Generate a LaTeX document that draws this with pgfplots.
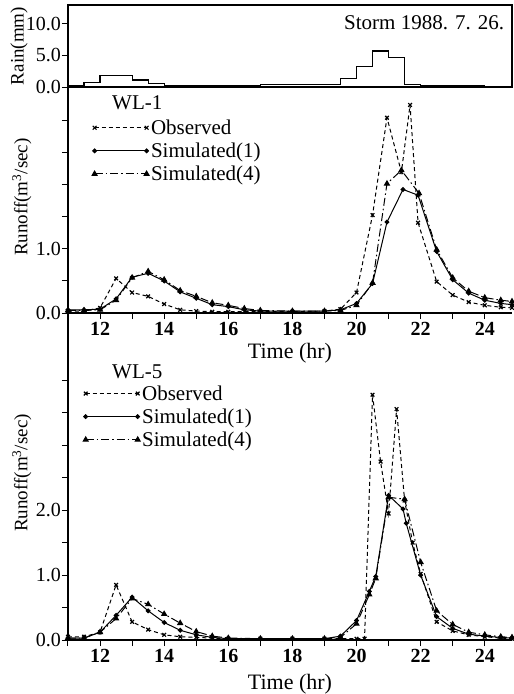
\documentclass[border=0pt]{standalone}
\usepackage{fontspec}
\setmainfont{Liberation Serif}
\usepackage{pgfplots}
\pgfplotsset{compat=1.18}

\newcommand\fs{\fontsize{21}{23}\selectfont}
\newcommand\fsl{\fontsize{22}{24}\selectfont}
\newcommand\fsyl{\fontsize{19}{21}\selectfont}
\newcommand\fsy{\fontsize{20}{22}\selectfont}

\pgfplotsset{
  panel/.style={
    anchor=north west, scale only axis, width=444pt, clip=false,
    xmin=11, xmax=24.85,
    axis x line*=bottom, axis y line*=left,
    axis line style={line width=1.8pt,-},
    tick align=outside, tick pos=left,
    major tick length=6pt, minor tick length=6pt,
    every tick/.style={line width=1pt, black},
    /pgf/number format/assume math mode=true,
    yticklabel style={font=\fsy, inner sep=1pt, /pgf/number format/fixed, /pgf/number format/fixed zerofill, /pgf/number format/precision=1},
    xticklabel style={font=\fsy\bfseries},
    xtick={12,14,...,24}, minor xtick={11,13,...,25},
    xlabel style={font=\fsl},
    ylabel style={font=\fsyl},
    xlabel={Time (hr)},
    ylabel={Runoff(m\textsuperscript{3}/sec)},
    legend style={draw=none, fill=none, font=\fs, row sep=3pt, inner sep=0pt},
    legend cell align=left,
    legend image code/.code={\draw[##1] plot coordinates {(0pt,0pt) (52pt,0pt)};},
  },
  obs/.style={black, line width=1pt, dash pattern=on 4pt off 3pt, mark=x, mark size=2.6pt, mark options={solid, line width=1.2pt}},
  simA/.style={black, line width=1pt, mark=*, mark size=1.9pt, mark options={solid}},
  simB/.style={black, line width=1pt, dash pattern=on 8pt off 3pt on 1.5pt off 3pt, mark=triangle*, mark size=2.8pt, mark options={solid}},
}

\begin{document}
\begin{tikzpicture}
\path[use as bounding box] (-68pt,0pt) rectangle (446pt,-694pt);

% rainfall
\begin{axis}[
  at={(0pt,-5pt)}, anchor=north west, scale only axis,
  width=444pt, height=82pt,
  xmin=11, xmax=24.85, ymin=0, ymax=13,
  xtick=\empty, ytick={0,5,10}, ytick pos=left,
  tick align=outside, major tick length=6pt,
  every tick/.style={line width=1pt, black},
  axis line style={line width=1.2pt},
  /pgf/number format/assume math mode=true,
  yticklabel style={font=\fsy, inner sep=1pt, /pgf/number format/fixed, /pgf/number format/fixed zerofill, /pgf/number format/precision=1},
  ylabel={Rain(mm)},
  ylabel style={font=\fsyl, at={(axis description cs:-0.11,0.5)}, anchor=center},
]
\addplot[const plot, black, line width=1.2pt] coordinates {
  (11,0.2) (11.5,0.7) (12,1.8) (13,1.1) (13.5,0.5) (14,0.2) (17,0.4)
  (19.5,1.4) (20,3.3) (20.5,5.7) (21,4.7) (21.5,0.4) (22,0.15) (24,0.0) (24.85,0.0)};
\draw[line width=2pt] (rel axis cs:0,0) -- (rel axis cs:1,0);
\node[anchor=east, font=\fs] at (rel axis cs:0.99,0.79) {Storm 1988. 7. 26.};
\end{axis}

% WL-1
\begin{axis}[
  panel, at={(0pt,-87pt)}, height=226pt,
  ymin=0, ymax=3.53, ytick={0,1}, minor ytick={0.5,1.5,2,2.5,3},
  ylabel style={at={(axis description cs:-0.104,0.513)}, anchor=center},
  xlabel style={at={(axis description cs:0.5,-0.177)}, anchor=center},
  legend style={at={(axis description cs:0.054,0.865)}, anchor=north west},
]
\addplot[obs] coordinates {
  (11.0,0.03) (11.5,0.03) (12.0,0.08) (12.5,0.54) (13.0,0.32) (13.5,0.26)
  (14.0,0.14) (14.5,0.05) (15.0,0.03) (15.5,0.02) (16.0,0.02) (17.0,0.02)
  (18.0,0.02) (19.0,0.03) (19.5,0.06) (20.0,0.32) (20.5,1.53) (20.95,3.05)
  (21.4,2.2) (21.67,3.25) (21.92,1.41) (22.5,0.49) (23.0,0.28) (23.5,0.17)
  (24.0,0.12) (24.5,0.09) (24.85,0.08)};
\addlegendentry{Observed}
\addplot[simA] coordinates {
  (11.0,0.05) (11.5,0.05) (12.0,0.06) (12.5,0.22) (13.0,0.56) (13.5,0.62)
  (14.0,0.5) (14.5,0.33) (15.0,0.23) (15.5,0.13) (16.0,0.1) (16.5,0.05)
  (17.0,0.03) (18.0,0.03) (19.0,0.03) (19.5,0.05) (20.0,0.15) (20.5,0.46)
  (20.95,1.42) (21.45,1.93) (21.92,1.84) (22.5,0.96) (23.0,0.52) (23.5,0.31)
  (24.0,0.2) (24.5,0.15) (24.85,0.13)};
\addlegendentry{Simulated(1)}
\addplot[simB] coordinates {
  (11.0,0.04) (11.5,0.04) (12.0,0.05) (12.5,0.2) (13.0,0.55) (13.5,0.65)
  (14.0,0.52) (14.5,0.35) (15.0,0.26) (15.5,0.16) (16.0,0.12) (16.5,0.07)
  (17.0,0.04) (18.0,0.03) (19.0,0.03) (19.5,0.04) (20.0,0.12) (20.5,0.47)
  (20.95,2.02) (21.4,2.23) (21.95,1.87) (22.5,0.99) (23.0,0.55) (23.5,0.34)
  (24.0,0.24) (24.5,0.2) (24.85,0.18)};
\addlegendentry{Simulated(4)}
\node[font=\fs] at (rel axis cs:0.156,0.93) {WL-1};
\end{axis}

\draw[line width=1.8pt] (0pt,-313pt) -- (0pt,-374pt);

% WL-5
\begin{axis}[
  panel, at={(0pt,-374pt)}, height=266pt,
  ymin=0, ymax=4.1, ytick={0,1,2}, minor ytick={0.5,1.5,2.5,3,3.5,4},
  ylabel style={at={(axis description cs:-0.104,0.628)}, anchor=center},
  xlabel style={at={(axis description cs:0.5,-0.165)}, anchor=center},
  legend style={at={(axis description cs:0.034,0.965)}, anchor=north west},
]
\addplot[obs] coordinates {
  (11.0,0.05) (11.5,0.05) (12.0,0.12) (12.5,0.85) (13.0,0.28) (13.5,0.16)
  (14.0,0.08) (14.5,0.05) (15.0,0.04) (15.5,0.03) (16.0,0.02) (17.0,0.02)
  (18.0,0.02) (19.0,0.02) (19.5,0.02) (20.0,0.02) (20.25,0.02) (20.5,3.78)
  (20.75,2.75) (21.0,1.95) (21.25,3.56) (21.5,2.15) (21.75,1.5) (22.0,1.02)
  (22.5,0.28) (23.0,0.14) (23.5,0.08) (24.0,0.05) (24.5,0.03) (24.85,0.02)};
\addlegendentry{Observed}
\addplot[simA] coordinates {
  (11.0,0.03) (11.5,0.03) (12.0,0.12) (12.5,0.38) (13.0,0.66) (13.5,0.45)
  (14.0,0.27) (14.5,0.15) (15.0,0.08) (15.5,0.04) (16.0,0.02) (17.0,0.02)
  (18.0,0.02) (19.0,0.02) (19.5,0.06) (20.0,0.3) (20.4,0.75) (20.6,0.98)
  (21.0,2.23) (21.45,2.02) (21.55,1.8) (22.0,1.0) (22.5,0.36) (23.0,0.18)
  (23.5,0.09) (24.0,0.06) (24.5,0.04) (24.85,0.03)};
\addlegendentry{Simulated(1)}
\addplot[simB] coordinates {
  (11.0,0.03) (11.5,0.03) (12.0,0.12) (12.5,0.33) (13.0,0.64) (13.5,0.55)
  (14.0,0.4) (14.5,0.26) (15.0,0.13) (15.5,0.06) (16.0,0.03) (17.0,0.02)
  (18.0,0.02) (19.0,0.02) (19.5,0.04) (20.0,0.25) (20.4,0.7) (20.6,0.95)
  (21.0,2.2) (21.5,2.17) (22.0,1.2) (22.5,0.45) (23.0,0.24) (23.5,0.12)
  (24.0,0.08) (24.5,0.05) (24.85,0.04)};
\addlegendentry{Simulated(4)}
\node[font=\fs] at (rel axis cs:0.156,1.007) {WL-5};
\end{axis}
\end{tikzpicture}
\end{document}
